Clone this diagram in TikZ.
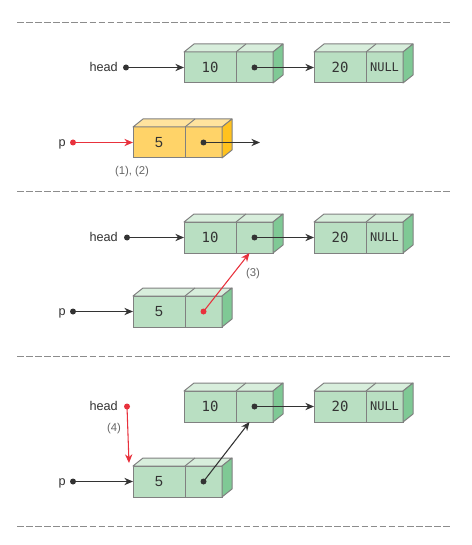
\documentclass[tikz,border=0pt]{standalone}
\usepackage{fontspec}
\setmainfont{Liberation Sans}
\newfontfamily\monof{DejaVu Sans Mono}
\usetikzlibrary{arrows.meta,calc}
\definecolor{gfront}{HTML}{B9DFC2}
\definecolor{gtop}{HTML}{D8EEDC}
\definecolor{gside}{HTML}{7FC995}
\definecolor{yfront}{HTML}{FFD368}
\definecolor{ytop}{HTML}{FFE39E}
\definecolor{yside}{HTML}{FFC21E}
\definecolor{edge}{HTML}{808080}
\definecolor{txt}{HTML}{333333}
\definecolor{lbl}{HTML}{666666}
\definecolor{ptrred}{HTML}{E8313C}
\definecolor{sepc}{HTML}{8C8C8C}
\tikzset{
  cellA/.style={draw=edge, line width=0.75pt, rectangle, outer sep=0pt, inner sep=0pt,
    minimum width=39pt, minimum height=23.25pt, anchor=north west, text=txt},
  cellB/.style={cellA, minimum width=27.75pt},
  face/.style={draw=edge, line width=0.75pt, line join=round},
  dotb/.style={circle, fill=txt, inner sep=0pt, minimum size=4.5pt},
  dotr/.style={circle, fill=ptrred, inner sep=0pt, minimum size=4.5pt},
  ptr/.style={draw=txt, line width=0.8pt, -{Stealth[length=6.5pt,width=5.5pt]}},
  rptr/.style={draw=ptrred, line width=0.8pt, -{Stealth[length=6.5pt,width=5.5pt]}},
  vartxt/.style={inner sep=0pt, text=txt, font=\fontsize{9.5}{11}\selectfont},
  steplbl/.style={inner sep=0pt, text=lbl, font=\fontsize{8.5}{10}\selectfont},
  sepline/.style={draw=sepc, line width=0.75pt, dash pattern=on 5pt off 1.8pt},
}
\newcommand\lbox[7]{%
  \node[cellA, fill=#4] (#1) at #2 {#3};
  \node[cellB, fill=#4] (#1p) at (#1.north east) {#7};
  \filldraw[face, fill=#5] (#1.north west) -- ++(10,-8) -- ($(#1p.north east)+(10,-8)$) -- (#1p.north east) -- cycle;
  \draw[face] (#1p.north west) -- ++(10,-8);
  \filldraw[face, fill=#6] (#1p.north east) -- ++(10,-8) -- ($(#1p.south east)+(10,-8)$) -- (#1p.south east) -- cycle;
}
\newcommand\fivetxt{{\fontsize{11}{13}\selectfont 5}}
\newcommand\nulltxt{{\monof\fontsize{9}{11}\selectfont NULL}}
\newcommand\monotxt[1]{{\monof\fontsize{10.5}{12}\selectfont #1}}
\begin{document}
\begin{tikzpicture}[x=0.75pt,y=-0.75pt]
\useasboundingbox (0,0) rectangle (471,545);
% separators
\draw[sepline] (17,23) -- (452,23);
\draw[sepline] (17,192) -- (452,192);
\draw[sepline] (17,356) -- (452,356);
\draw[sepline] (17,526) -- (452,526);

% ---------- panel 1
\lbox{b1}{(184,52)}{\monotxt{10}}{gfront}{gtop}{gside}{}
\lbox{b2}{(314,52)}{\monotxt{20}}{gfront}{gtop}{gside}{\nulltxt}
\lbox{y1}{(133,127)}{\fivetxt}{yfront}{ytop}{yside}{}
\node[dotb] (hd1) at (126,67.5) {};
\node[vartxt, anchor=base east] (hl1) at (118,71.5) {head};
\draw[ptr] (hd1.center) -- (b1.west);
\node[dotb] (pt1) at (b1p.center) {};
\draw[ptr] (pt1.center) -- (b2.west);
\node[dotr] (pd1) at (73,142.5) {};
\node[vartxt, anchor=base east] (pl1) at (66,146.5) {p};
\draw[rptr] (pd1.center) -- (y1.west);
\node[dotb] (yp1) at (y1p.center) {};
\coordinate (e1) at (260,142.5);
\draw[ptr] (yp1.center) -- (e1);
\node[steplbl] (s12) at (132,172) {(1), (2)};

% ---------- panel 2
\lbox{b3}{(184,222)}{\monotxt{10}}{gfront}{gtop}{gside}{}
\lbox{b4}{(314,222)}{\monotxt{20}}{gfront}{gtop}{gside}{\nulltxt}
\lbox{b5}{(133,296)}{\fivetxt}{gfront}{gtop}{gside}{}
\node[dotb] (hd2) at (127,237.5) {};
\node[vartxt, anchor=base east] (hl2) at (118,241.5) {head};
\draw[ptr] (hd2.center) -- (b3.west);
\node[dotb] (pt2) at (b3p.center) {};
\draw[ptr] (pt2.center) -- (b4.west);
\node[dotb] (pd2) at (73,311.5) {};
\node[vartxt, anchor=base east] (pl2) at (66,315.5) {p};
\draw[ptr] (pd2.center) -- (b5.west);
\node[dotr] (pt5) at (b5p.center) {};
\coordinate (t2) at ($(b3p.south)+(-5,0)$);
\draw[rptr] (pt5.center) -- (t2);
\node[steplbl] (s3) at (253,274) {(3)};

% ---------- panel 3
\lbox{b6}{(184,391)}{\monotxt{10}}{gfront}{gtop}{gside}{}
\lbox{b7}{(314,391)}{\monotxt{20}}{gfront}{gtop}{gside}{\nulltxt}
\lbox{b8}{(133,466)}{\fivetxt}{gfront}{gtop}{gside}{}
\node[dotr] (hd3) at (127,406.5) {};
\node[vartxt, anchor=base east] (hl3) at (118,410.5) {head};
\node[dotb] (pt6) at (b6p.center) {};
\draw[ptr] (pt6.center) -- (b7.west);
\coordinate (t3) at ($(b8.north west)+(-4,-3)$);
\draw[rptr] (hd3.center) -- (t3);
\node[steplbl] (s4) at (114,429) {(4)};
\node[dotb] (pd3) at (73,481.5) {};
\node[vartxt, anchor=base east] (pl3) at (66,485.5) {p};
\draw[ptr] (pd3.center) -- (b8.west);
\node[dotb] (pt8) at (b8p.center) {};
\coordinate (t4) at ($(b6p.south)+(-5,0)$);
\draw[ptr] (pt8.center) -- (t4);
\end{tikzpicture}
\end{document}
